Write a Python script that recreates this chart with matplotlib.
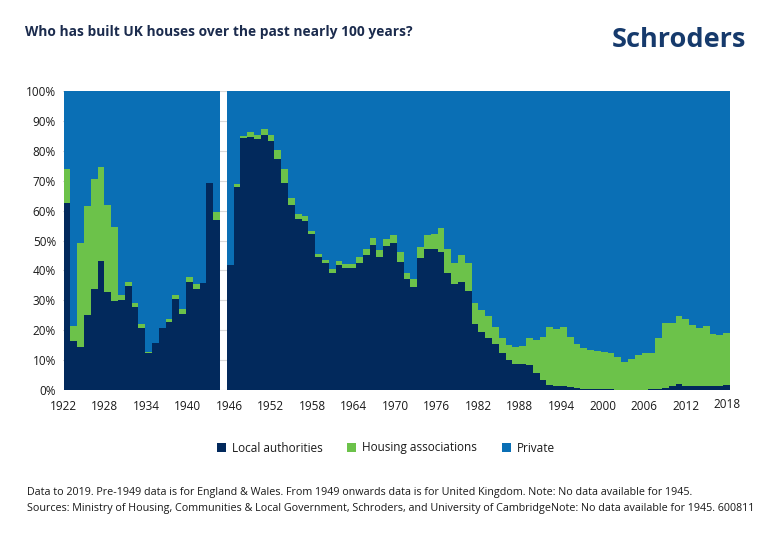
import matplotlib
matplotlib.use("Agg")
import matplotlib.pyplot as plt
from matplotlib.patches import Patch
from matplotlib.transforms import blended_transform_factory
import numpy as np

plt.rcParams['font.family'] = ['Open Sans', 'DejaVu Sans']

# ---------------- data (share of completions, %) ----------------
years = list(range(1922, 2020))          # 1945: no data
local_authorities = [
    62.4, 16.4, 14.5, 25.2, 33.8, 43.3, 32.8, 29.7, 30.1, 34.7,   # 1922-1931
    27.9, 20.8, 12.5, 15.8, 20.6, 22.7, 30.4, 25.5, 36.1, 33.9,   # 1932-1941
    35.9, 69.2, 56.9, None, 41.8, 68.0, 84.3, 84.5, 83.8, 85.3,   # 1942-1951
    83.4, 77.1, 69.3, 61.9, 57.3, 56.6, 52.2, 44.5, 42.6, 39.2,   # 1952-1961
    41.7, 40.7, 40.7, 42.6, 45.2, 48.6, 44.6, 48.3, 49.3, 42.9,   # 1962-1971
    37.0, 34.3, 44.3, 47.2, 47.2, 46.0, 39.2, 35.5, 36.2, 33.0,   # 1972-1981
    22.0, 19.5, 17.5, 15.5, 12.5, 10.0, 8.7, 8.6, 8.4, 5.6,       # 1982-1991
    3.3, 1.7, 1.3, 1.2, 0.9, 0.8, 0.5, 0.3, 0.2, 0.2,             # 1992-2001
    0.2, 0.1, 0.1, 0.1, 0.1, 0.1, 0.2, 0.3, 0.8, 1.2,             # 2002-2011
    1.9, 1.5, 1.3, 1.2, 1.4, 1.5, 1.4, 1.8,                       # 2012-2019
]
housing_associations = [
    11.6, 5.1, 34.7, 36.3, 36.8, 31.3, 29.0, 24.8, 1.6, 1.4,      # 1922-1931
    1.2, 1.2, 0.2, 0.0, 0.2, 1.0, 1.4, 1.6, 1.7, 1.4,             # 1932-1941
    0.0, 0.0, 2.7, None, 0.0, 0.9, 0.7, 1.7, 1.5, 2.0,            # 1942-1951
    1.9, 3.2, 4.6, 2.4, 1.6, 1.6, 1.1, 1.1, 0.9, 1.2,             # 1952-1961
    1.4, 1.6, 1.6, 1.8, 2.0, 2.1, 2.2, 2.3, 2.4, 3.1,             # 1962-1971
    2.2, 2.7, 3.6, 4.5, 5.0, 8.2, 8.0, 6.9, 9.1, 9.5,             # 1972-1981
    7.0, 7.3, 7.2, 5.5, 5.0, 5.0, 5.6, 6.2, 8.9, 11.1,            # 1982-1991
    14.5, 19.3, 19.0, 19.8, 16.9, 14.5, 13.7, 13.1, 12.9, 12.6,   # 1992-2001
    12.3, 10.8, 9.3, 10.2, 11.6, 12.2, 12.1, 17.0, 21.5, 21.1,    # 2002-2011
    23.0, 22.2, 20.4, 19.7, 20.1, 17.3, 17.1, 17.2,               # 2012-2019
]
tick_years = [1922, 1928, 1934, 1940, 1946, 1952, 1958, 1964, 1970,
              1976, 1982, 1988, 1994, 2000, 2006, 2012]
last_label = 2018
series_names = ["Local authorities", "Housing associations", "Private"]

# ---------------- styling ----------------
C_LA = "#02295c"
C_HA = "#6cc24a"
C_PR = "#0a6fb5"
C_TXT = "#1a1a1a"
C_TITLE = "#1b2b4d"

la = np.array([np.nan if v is None else v for v in local_authorities], float)
ha = np.array([np.nan if v is None else v for v in housing_associations], float)
pr = 100.0 - la - ha
x = np.arange(len(years))

fig = plt.figure(figsize=(7.7, 5.35), dpi=100)
ax = fig.add_axes([63/770, 1-390/535, (730-63)/770, (390-91)/535])

ax.set_axisbelow(True)
ax.yaxis.grid(True, color="#d9d9d9", linewidth=0.8)
ax.bar(x, la, width=1.0, color=C_LA, linewidth=0, zorder=2)
ax.bar(x, ha, width=1.0, bottom=la, color=C_HA, linewidth=0, zorder=2)
ax.bar(x, pr, width=1.0, bottom=la + ha, color=C_PR, linewidth=0, zorder=2)

ax.set_xlim(-0.5, len(years) - 0.5)
ax.set_ylim(0, 100)
ax.set_yticks(np.arange(0, 101, 10))
ax.set_yticklabels([f"{v}%" for v in range(0, 101, 10)], fontsize=8.5, color=C_TXT)

def tick_pos(yr):
    return (yr - years[0]) * 1.018 - 0.6

ax.set_xticks([tick_pos(y) for y in tick_years])
ax.set_xticklabels([str(y) for y in tick_years], fontsize=8.5, color=C_TXT)
ax.tick_params(axis="both", length=0, pad=5)
ax.tick_params(axis="x", pad=7)
trans = blended_transform_factory(ax.transData, ax.transAxes)
ax.text(tick_pos(last_label), -0.047, str(last_label), transform=trans,
        ha="center", va="center", fontsize=8.5, color=C_TXT)
for s in ax.spines.values():
    s.set_visible(False)

# title & logo
fig.text(25/770, 1-32/535, "Who has built UK houses over the past nearly 100 years?",
         fontsize=9.9, fontweight="bold", color=C_TITLE, ha="left", va="center")
fig.text(746/770, 1-40/535, "Schroders", fontsize=19.5, fontweight="bold",
         color="#163a6c", ha="right", va="center")

# legend
handles = [Patch(facecolor=c, edgecolor="none") for c in (C_LA, C_HA, C_PR)]
fig.legend(handles, series_names, loc="center", bbox_to_anchor=(386/770, 1-448/535),
           ncol=3, frameon=False, fontsize=8.5, handlelength=0.75, handleheight=0.75,
           handletextpad=0.5, columnspacing=2.1, labelcolor=C_TXT)

# footnotes
fig.text(27/770, 1-492/535,
         "Data to 2019. Pre-1949 data is for England & Wales. From 1949 onwards data is for United Kingdom. Note: No data available for 1945.",
         fontsize=7.75, color=C_TXT, ha="left", va="center")
fig.text(27/770, 1-509/535,
         "Sources: Ministry of Housing, Communities & Local Government, Schroders, and University of CambridgeNote: No data available for 1945. 600811",
         fontsize=7.75, color=C_TXT, ha="left", va="center")

fig.savefig("out.png", dpi=100)
